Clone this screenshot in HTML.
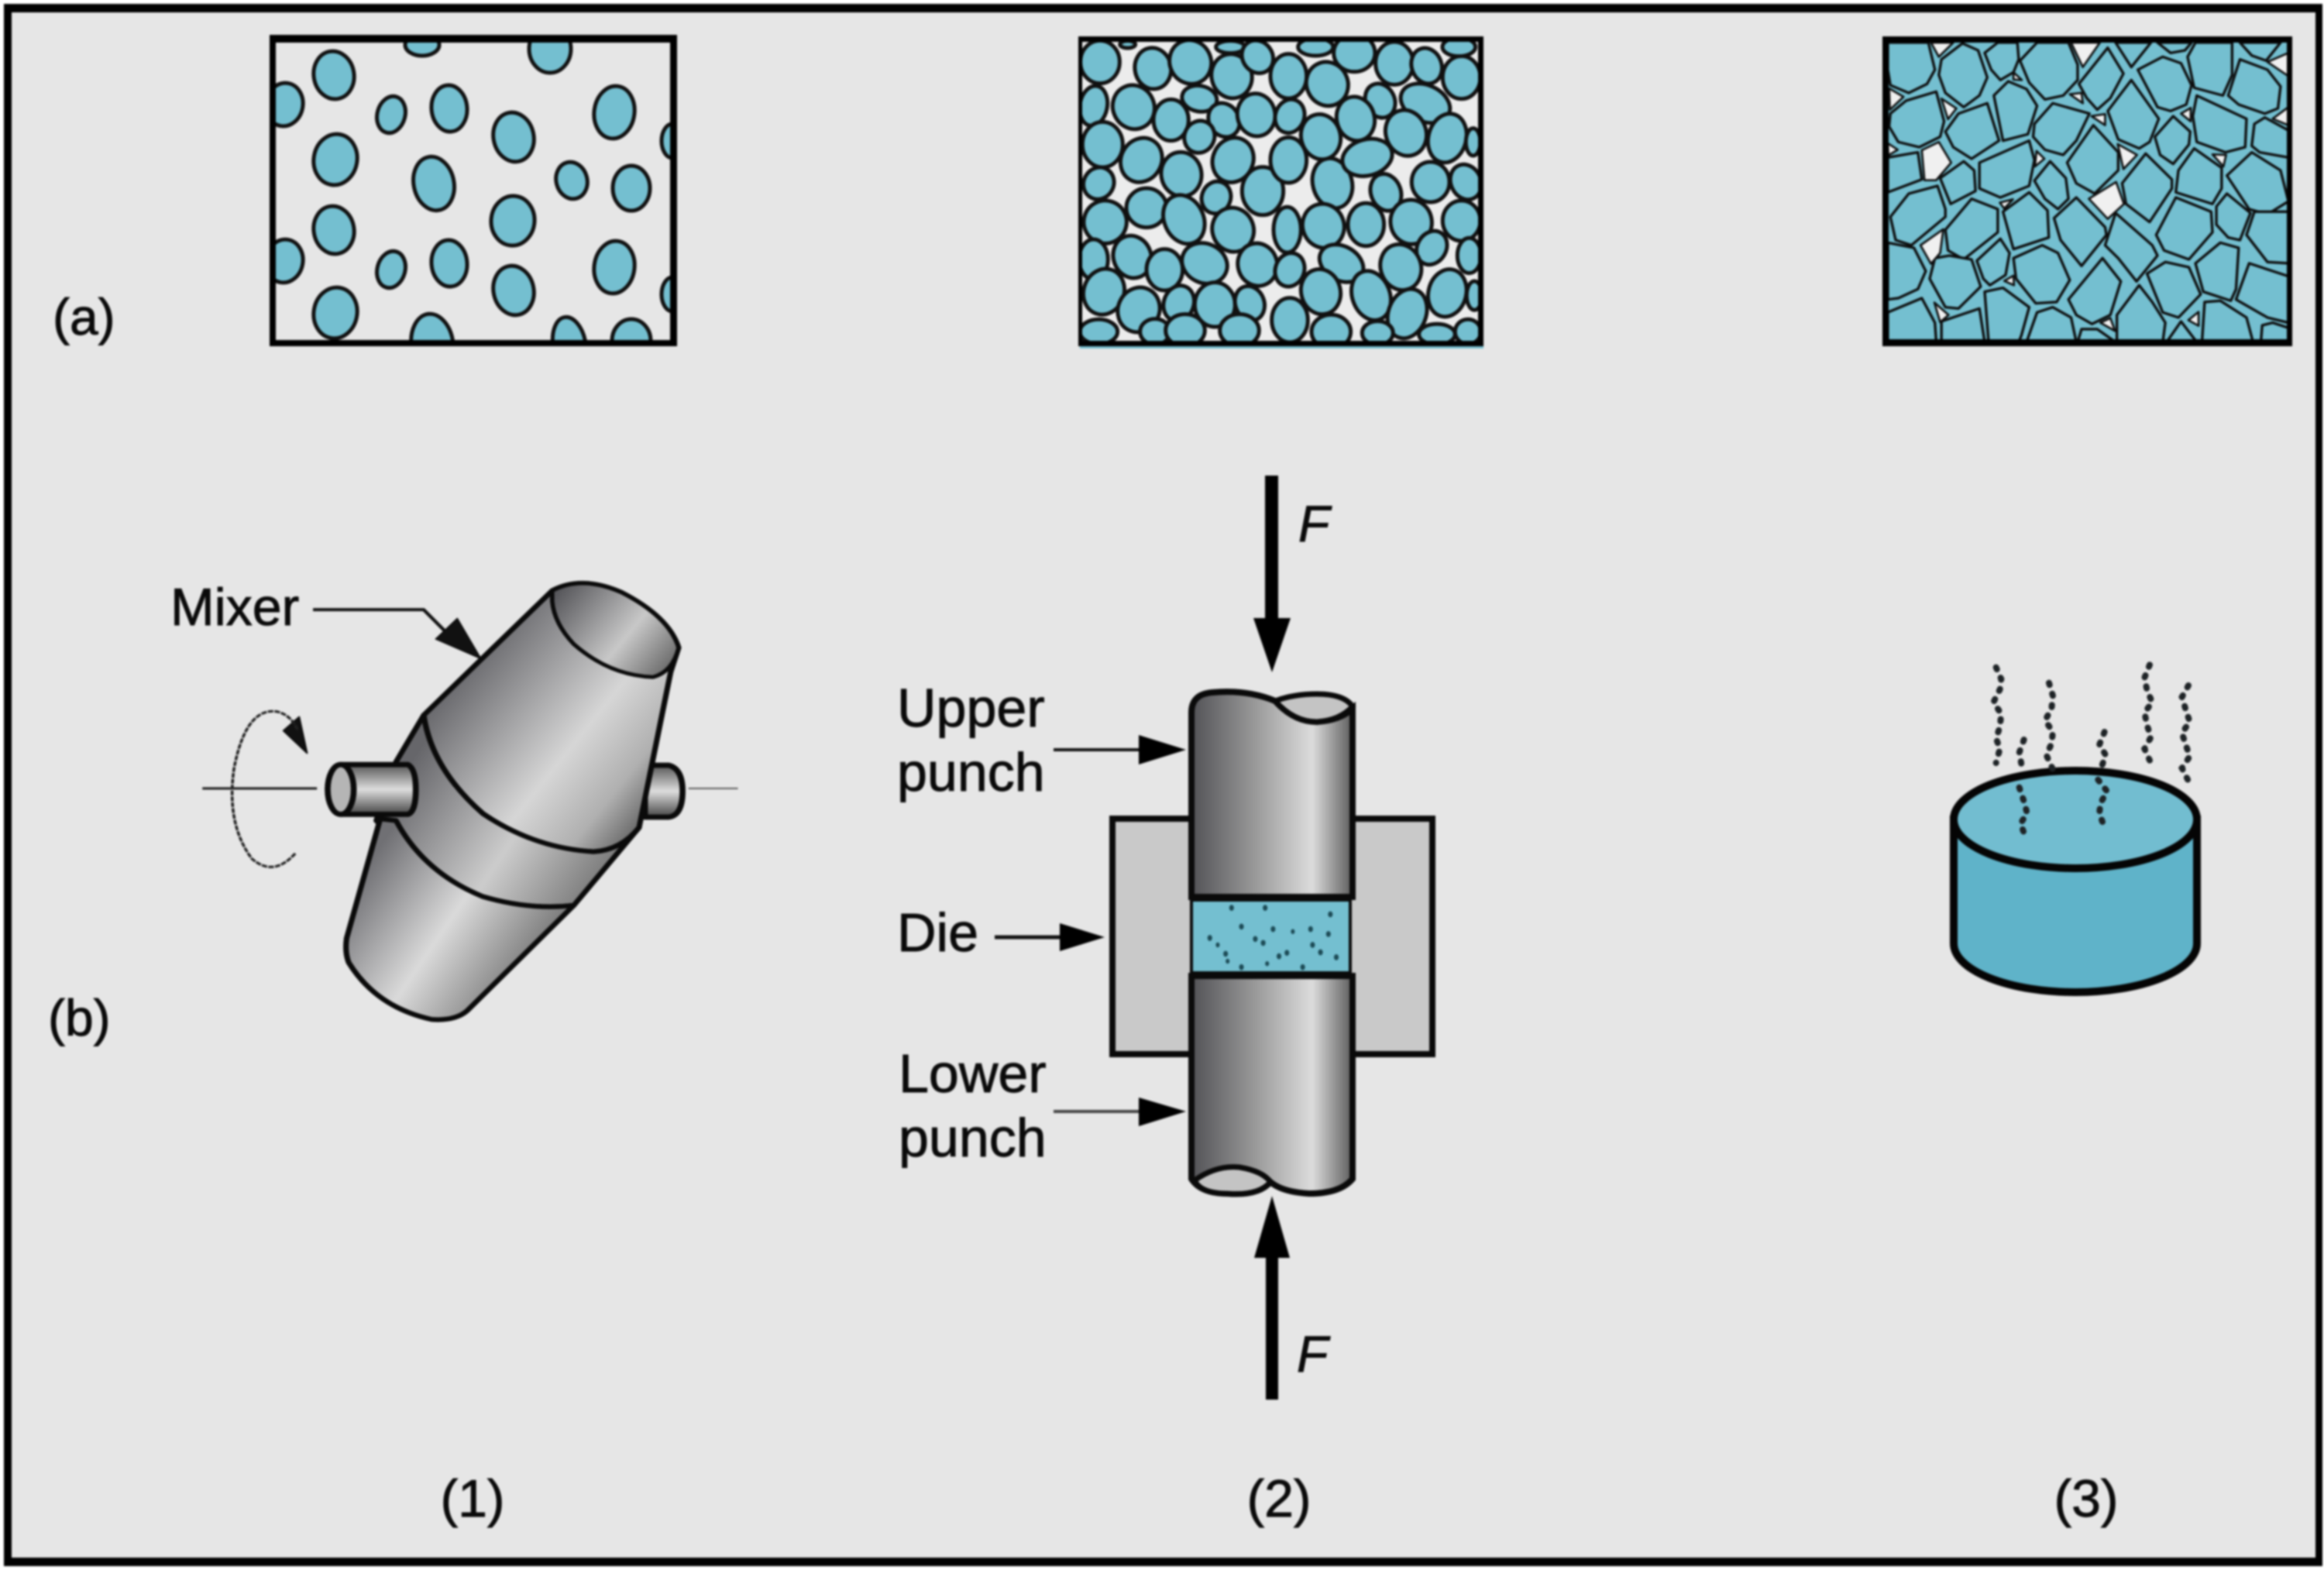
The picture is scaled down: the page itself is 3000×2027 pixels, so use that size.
<!DOCTYPE html>
<html><head><meta charset="utf-8"><style>
html,body{margin:0;padding:0;background:#fff}
svg{display:block;filter:blur(1.2px)}
text{font-family:"Liberation Sans",Arial,sans-serif;fill:#0a0a0a;stroke:#0a0a0a;stroke-width:.9px}
</style></head><body>
<svg width="3000" height="2027" viewBox="0 0 3000 2027" xmlns="http://www.w3.org/2000/svg">
<defs>
<clipPath id="c1"><rect x="356" y="55" width="509" height="384"/></clipPath>
<clipPath id="c2"><rect x="1397" y="54" width="511" height="386"/></clipPath>
<clipPath id="c3"><rect x="2438" y="55" width="514" height="383"/></clipPath>
<linearGradient id="gUp" gradientUnits="userSpaceOnUse" x1="720" y1="480" x2="1260" y2="860"><stop offset="0" stop-color="#66666a"/><stop offset=".55" stop-color="#d6d6d6"/><stop offset=".8" stop-color="#b0b0b0"/><stop offset="1" stop-color="#5c5c5c"/></linearGradient>
<linearGradient id="gMid" gradientUnits="userSpaceOnUse" x1="600" y1="760" x2="1180" y2="1100"><stop offset="0" stop-color="#66666a"/><stop offset=".5" stop-color="#cccccc"/><stop offset="1" stop-color="#606060"/></linearGradient>
<linearGradient id="gLow" gradientUnits="userSpaceOnUse" x1="500" y1="1040" x2="1000" y2="1340"><stop offset="0" stop-color="#707074"/><stop offset=".45" stop-color="#dadada"/><stop offset="1" stop-color="#5c5c5c"/></linearGradient>
<linearGradient id="gRim" gradientUnits="userSpaceOnUse" x1="1020" y1="190" x2="1310" y2="400"><stop offset="0" stop-color="#58585c"/><stop offset=".6" stop-color="#c8c8c8"/><stop offset="1" stop-color="#6a6a6a"/></linearGradient>
<linearGradient id="gTr" x1="0" y1="0" x2="0" y2="1"><stop offset="0" stop-color="#555"/><stop offset=".5" stop-color="#ddd"/><stop offset="1" stop-color="#444"/></linearGradient>
<linearGradient id="gCyl" x1="0" y1="0" x2="1" y2="0"><stop offset="0" stop-color="#525256"/><stop offset=".4" stop-color="#9a9a9a"/><stop offset=".75" stop-color="#dcdcdc"/><stop offset="1" stop-color="#5c5c5c"/></linearGradient>
</defs>

<!-- frame -->
<rect width="3000" height="2027" fill="#fff"/>
<rect x="5" y="5" width="2993" height="2017" fill="#000"/>
<rect x="15" y="16" width="2974" height="1995" fill="#e6e6e6"/>

<!-- box 1 -->
<g clip-path="url(#c1)" fill="#74bfd0" stroke="#111" stroke-width="5">
<ellipse cx="431" cy="97" rx="26" ry="31" transform="rotate(-10 431 97)"/>
<ellipse cx="545" cy="58" rx="22" ry="14"/>
<ellipse cx="710" cy="63" rx="27" ry="31"/>
<ellipse cx="367" cy="135" rx="24" ry="28" transform="rotate(10 367 135)"/>
<ellipse cx="505" cy="148" rx="18" ry="24" transform="rotate(15 505 148)"/>
<ellipse cx="580" cy="140" rx="23" ry="30" transform="rotate(-5 580 140)"/>
<ellipse cx="663" cy="177" rx="26" ry="32" transform="rotate(-12 663 177)"/>
<ellipse cx="793" cy="145" rx="26" ry="34" transform="rotate(8 793 145)"/>
<ellipse cx="868" cy="182" rx="14" ry="22"/>
<ellipse cx="433" cy="206" rx="28" ry="33" transform="rotate(10 433 206)"/>
<ellipse cx="560" cy="237" rx="26" ry="35" transform="rotate(-12 560 237)"/>
<ellipse cx="738" cy="233" rx="20" ry="24" transform="rotate(-15 738 233)"/>
<ellipse cx="815" cy="243" rx="24" ry="29"/>
<ellipse cx="662" cy="285" rx="28" ry="32" transform="rotate(5 662 285)"/>
<ellipse cx="431" cy="297" rx="26" ry="31" transform="rotate(-10 431 297)"/>
<ellipse cx="367" cy="337" rx="24" ry="28" transform="rotate(10 367 337)"/>
<ellipse cx="505" cy="348" rx="18" ry="24" transform="rotate(15 505 348)"/>
<ellipse cx="580" cy="340" rx="23" ry="30" transform="rotate(-5 580 340)"/>
<ellipse cx="663" cy="375" rx="26" ry="32" transform="rotate(-12 663 375)"/>
<ellipse cx="793" cy="345" rx="26" ry="34" transform="rotate(8 793 345)"/>
<ellipse cx="868" cy="380" rx="14" ry="22"/>
<ellipse cx="433" cy="404" rx="28" ry="33" transform="rotate(10 433 404)"/>
<ellipse cx="558" cy="445" rx="27" ry="40" transform="rotate(-8 558 445)"/>
<ellipse cx="735" cy="445" rx="21" ry="36" transform="rotate(-10 735 445)"/>
<ellipse cx="815" cy="440" rx="25" ry="28"/>
</g>
<path fill-rule="evenodd" d="M348 45H874V447H348ZM356 55V439H865V55Z" fill="#000"/>

<!-- box 2 -->
<rect x="1392" y="47" width="523" height="400" fill="#ececec"/>
<g clip-path="url(#c2)"><g transform="translate(1385 40) scale(.3333)" fill="#74bfd0" stroke="#111" stroke-width="15">
<ellipse cx="105" cy="120" rx="76" ry="83"/><ellipse cx="212" cy="52" rx="30" ry="14"/>
<ellipse cx="310" cy="145" rx="70" ry="80" transform="rotate(-10 310 145)"/>
<ellipse cx="455" cy="120" rx="80" ry="86" transform="rotate(-25 455 120)"/>
<ellipse cx="610" cy="62" rx="56" ry="24"/>
<ellipse cx="615" cy="175" rx="78" ry="86" transform="rotate(-15 615 175)"/>
<ellipse cx="715" cy="100" rx="58" ry="66" transform="rotate(-35 715 100)"/>
<ellipse cx="80" cy="290" rx="53" ry="78" transform="rotate(10 80 290)"/>
<ellipse cx="235" cy="295" rx="80" ry="86" transform="rotate(-25 235 295)"/>
<ellipse cx="380" cy="345" rx="68" ry="80"/>
<ellipse cx="490" cy="262" rx="68" ry="50" transform="rotate(10 490 262)"/>
<ellipse cx="585" cy="345" rx="58" ry="68" transform="rotate(-30 585 345)"/>
<ellipse cx="710" cy="325" rx="73" ry="83" transform="rotate(-10 710 325)"/>
<ellipse cx="490" cy="410" rx="58" ry="63" transform="rotate(25 490 410)"/>
<ellipse cx="115" cy="440" rx="78" ry="88"/>
<ellipse cx="265" cy="500" rx="78" ry="88" transform="rotate(30 265 500)"/>
<ellipse cx="420" cy="555" rx="78" ry="86" transform="rotate(-10 420 555)"/>
<ellipse cx="620" cy="500" rx="78" ry="88" transform="rotate(25 620 500)"/>
<ellipse cx="100" cy="590" rx="58" ry="63" transform="rotate(30 100 590)"/>
<ellipse cx="555" cy="645" rx="56" ry="63" transform="rotate(20 555 645)"/>
<ellipse cx="735" cy="620" rx="80" ry="93"/>
<ellipse cx="125" cy="740" rx="83" ry="83" transform="rotate(20 125 740)"/>
<ellipse cx="285" cy="685" rx="78" ry="76"/>
<ellipse cx="430" cy="730" rx="76" ry="98" transform="rotate(-25 430 730)"/>
<ellipse cx="620" cy="770" rx="80" ry="86" transform="rotate(-20 620 770)"/>
<ellipse cx="80" cy="885" rx="56" ry="78"/>
<ellipse cx="230" cy="875" rx="73" ry="83" transform="rotate(-20 230 875)"/>
<ellipse cx="355" cy="925" rx="70" ry="80"/>
<ellipse cx="510" cy="900" rx="90" ry="76" transform="rotate(25 510 900)"/>
<ellipse cx="715" cy="905" rx="76" ry="83" transform="rotate(-15 715 905)"/>
<ellipse cx="120" cy="1010" rx="78" ry="90" transform="rotate(20 120 1010)"/>
<ellipse cx="255" cy="1080" rx="80" ry="88" transform="rotate(25 255 1080)"/>
<ellipse cx="410" cy="1055" rx="58" ry="70" transform="rotate(20 410 1055)"/>
<ellipse cx="550" cy="1060" rx="78" ry="86"/>
<ellipse cx="685" cy="1055" rx="56" ry="68" transform="rotate(-20 685 1055)"/>
<ellipse cx="100" cy="1165" rx="73" ry="48"/>
<ellipse cx="318" cy="1165" rx="58" ry="50"/>
<ellipse cx="435" cy="1160" rx="76" ry="63"/>
<ellipse cx="645" cy="1160" rx="76" ry="63"/>
<ellipse cx="1005" cy="590" rx="76" ry="98" transform="rotate(-15 1005 590)"/>
<ellipse cx="1212" cy="625" rx="58" ry="73" transform="rotate(-20 1212 625)"/>
<ellipse cx="1385" cy="585" rx="73" ry="78"/>
<ellipse cx="1522" cy="585" rx="58" ry="70" transform="rotate(-25 1522 585)"/>
<ellipse cx="830" cy="770" rx="53" ry="88"/>
<ellipse cx="970" cy="755" rx="80" ry="86" transform="rotate(-20 970 755)"/>
<ellipse cx="1135" cy="750" rx="70" ry="83"/>
<ellipse cx="1310" cy="740" rx="80" ry="86" transform="rotate(-10 1310 740)"/>
<ellipse cx="1505" cy="735" rx="73" ry="78"/>
<ellipse cx="1390" cy="840" rx="56" ry="68" transform="rotate(30 1390 840)"/>
<ellipse cx="1535" cy="870" rx="46" ry="68"/>
<ellipse cx="1040" cy="900" rx="90" ry="66" transform="rotate(30 1040 900)"/>
<ellipse cx="1270" cy="915" rx="78" ry="90" transform="rotate(-20 1270 915)"/>
<ellipse cx="840" cy="925" rx="56" ry="66" transform="rotate(20 840 925)"/>
<ellipse cx="960" cy="1010" rx="76" ry="88" transform="rotate(-15 960 1010)"/>
<ellipse cx="1155" cy="1025" rx="73" ry="98" transform="rotate(-20 1155 1025)"/>
<ellipse cx="1450" cy="1015" rx="73" ry="93" transform="rotate(15 1450 1015)"/>
<ellipse cx="1555" cy="1025" rx="30" ry="56"/>
<ellipse cx="1295" cy="1095" rx="73" ry="98" transform="rotate(20 1295 1095)"/>
<ellipse cx="840" cy="1120" rx="70" ry="86"/>
<ellipse cx="1000" cy="1165" rx="76" ry="66"/>
<ellipse cx="1180" cy="1170" rx="60" ry="46"/>
<ellipse cx="1410" cy="1175" rx="70" ry="40"/>
<ellipse cx="1530" cy="1165" rx="50" ry="48"/>
<ellipse cx="940" cy="62" rx="68" ry="34"/>
<ellipse cx="1090" cy="85" rx="80" ry="73"/>
<ellipse cx="1245" cy="125" rx="73" ry="83"/>
<ellipse cx="1370" cy="135" rx="58" ry="70" transform="rotate(-20 1370 135)"/>
<ellipse cx="1505" cy="180" rx="73" ry="83"/>
<ellipse cx="1495" cy="62" rx="64" ry="36"/>
<ellipse cx="835" cy="175" rx="70" ry="86"/>
<ellipse cx="985" cy="205" rx="80" ry="86" transform="rotate(-25 985 205)"/>
<ellipse cx="1190" cy="270" rx="56" ry="68" transform="rotate(-25 1190 270)"/>
<ellipse cx="1365" cy="280" rx="100" ry="70" transform="rotate(25 1365 280)"/>
<ellipse cx="1095" cy="340" rx="73" ry="86" transform="rotate(-15 1095 340)"/>
<ellipse cx="840" cy="330" rx="56" ry="66" transform="rotate(20 840 330)"/>
<ellipse cx="960" cy="410" rx="76" ry="88" transform="rotate(-15 960 410)"/>
<ellipse cx="1290" cy="395" rx="78" ry="90" transform="rotate(-20 1290 395)"/>
<ellipse cx="1450" cy="415" rx="73" ry="96" transform="rotate(15 1450 415)"/>
<ellipse cx="1550" cy="430" rx="28" ry="53"/>
<ellipse cx="1140" cy="490" rx="98" ry="70" transform="rotate(-15 1140 490)"/>
<ellipse cx="835" cy="500" rx="70" ry="88"/>
</g></g>
<path fill-rule="evenodd" d="M1392 47H1915V447H1392ZM1397 54V440H1908V54Z" fill="#000"/>
<rect x="1394" y="447" width="521" height="3" fill="#74bfd0"/>

<!-- box 3 -->
<rect x="2430" y="47" width="529" height="400" fill="#74bfd0"/>
<g clip-path="url(#c3)"><g transform="translate(2420 40) scale(.338 .3333)">
<g fill="#74bfd0" stroke="#0d0d0d" stroke-width="10" stroke-linejoin="round">
<polygon points="50,45 205,45 230,150 200,205 130,240 60,210 50,150"/>
<polygon points="335,48 395,75 430,180 400,250 340,295 270,240 245,170 255,110"/>
<polygon points="420,85 470,45 545,45 550,110 530,160 480,190 445,150"/>
<polygon points="555,115 620,45 740,45 775,130 775,190 720,250 650,265 590,200"/>
<polygon points="780,205 890,65 950,165 900,260 850,305 810,260"/>
<polygon points="920,45 1055,45 980,140"/>
<polygon points="1080,45 1210,45 1185,75 1130,85"/>
<polygon points="1005,150 1100,100 1170,125 1210,210 1190,285 1130,310 1080,295"/>
<polygon points="1225,45 1365,45 1365,170 1330,250 1220,220 1195,100"/>
<polygon points="1395,45 1550,45 1495,115 1440,95"/>
<polygon points="1350,250 1395,110 1500,150 1550,215 1540,300 1490,320 1390,285"/>
<polygon points="60,320 120,270 235,235 265,350 250,410 170,450 90,430 55,370"/>
<polygon points="270,390 320,320 430,280 475,425 370,495 300,450"/>
<polygon points="455,250 510,195 580,225 620,290 585,400 490,425"/>
<polygon points="610,360 680,280 820,320 770,425 720,480 650,460 605,410"/>
<polygon points="890,310 980,190 1085,340 1050,430 1010,455 930,420"/>
<polygon points="1070,410 1140,330 1205,390 1200,440 1140,515 1090,480"/>
<polygon points="1215,330 1230,250 1420,340 1415,450 1340,470 1230,430"/>
<polygon points="1450,360 1490,335 1580,385 1580,490 1470,470 1440,445"/>
<polygon points="50,490 165,470 180,575 50,625"/>
<polygon points="250,570 340,505 380,540 385,620 290,670"/>
<polygon points="400,510 590,425 610,500 590,600 480,645 400,610"/>
<polygon points="610,580 670,505 730,570 740,650 700,690 650,650"/>
<polygon points="735,510 835,365 930,470 930,540 840,630 770,590"/>
<polygon points="945,590 1035,475 1135,575 1135,610 1050,740 960,670"/>
<polygon points="1150,625 1160,540 1220,455 1325,530 1325,610 1290,670"/>
<polygon points="1345,560 1440,470 1550,540 1580,660 1500,710 1430,690"/>
<polygon points="60,720 130,630 240,600 270,690 270,720 140,830 80,810"/>
<polygon points="270,770 370,650 470,690 470,780 340,885 280,850"/>
<polygon points="490,700 590,625 660,695 665,800 530,845"/>
<polygon points="685,725 770,645 880,760 885,790 790,910 710,810"/>
<polygon points="1075,790 1150,645 1285,700 1290,780 1200,885 1105,850"/>
<polygon points="1305,680 1345,630 1435,705 1395,810 1350,800 1305,750"/>
<polygon points="1420,790 1450,700 1580,700 1580,900 1500,895"/>
<polygon points="50,820 150,840 195,930 165,1000 90,1035 50,1040"/>
<polygon points="210,960 230,880 285,870 370,885 405,990 320,1075 270,1070"/>
<polygon points="390,890 480,805 515,860 500,945 440,985 415,960"/>
<polygon points="530,880 640,830 700,860 745,965 695,1050 615,1055 540,960"/>
<polygon points="880,830 920,705 1060,830 1080,870 1000,970 930,880"/>
<polygon points="1040,940 1110,895 1200,915 1245,1020 1160,1110 1100,1090"/>
<polygon points="1225,900 1320,820 1390,840 1380,1000 1360,1045 1255,1010"/>
<polygon points="1380,1040 1430,900 1580,950 1580,1130 1500,1110"/>
<polygon points="740,1040 870,880 940,970 900,1100 830,1135 770,1100"/>
<polygon points="50,1090 180,1035 230,1130 235,1205 50,1205"/>
<polygon points="255,1125 400,1075 420,1205 255,1205"/>
<polygon points="420,1010 490,995 590,1070 560,1180 550,1205 435,1205"/>
<polygon points="580,1205 620,1090 680,1070 750,1110 770,1205"/>
<polygon points="775,1205 790,1155 850,1155 920,1205"/>
<polygon points="925,1100 1010,985 1060,1050 1110,1130 1100,1205 925,1205"/>
<polygon points="1115,1205 1170,1125 1230,1205"/>
<polygon points="1250,1205 1260,1050 1320,1045 1420,1110 1445,1205"/>
<polygon points="1475,1205 1480,1140 1520,1130 1580,1150 1580,1205"/>
</g>
<g fill="#f0f0f0" stroke="#0d0d0d" stroke-width="8" stroke-linejoin="round">
<polygon points="215,45 300,45 245,100"/><polygon points="750,45 860,45 795,140"/><polygon points="55,222 110,255 58,305"/><polygon points="255,262 312,300 280,342"/><polygon points="180,462 245,430 292,510 235,578 190,578"/><polygon points="818,650 922,585 952,670 890,728"/><polygon points="175,830 262,768 250,860 215,902"/><polygon points="928,438 1002,480 950,535"/><polygon points="1500,120 1580,85 1580,175"/><polygon points="1520,340 1580,295 1580,365"/><polygon points="745,245 790,240 795,280"/><polygon points="618,465 648,495 612,525"/><polygon points="1170,320 1207,298 1207,350"/><polygon points="828,330 880,322 880,365"/><polygon points="1290,478 1342,480 1332,525"/><polygon points="1198,1120 1237,1088 1237,1142"/><polygon points="862,1130 900,1112 918,1162"/><polygon points="228,1052 282,1100 250,1128"/><polygon points="530,160 562,190 530,188"/><polygon points="50,435 88,460 52,482"/><polygon points="478,665 528,652 495,688"/><polygon points="495,968 530,948 532,985"/>
</g></g></g>
<path fill-rule="evenodd" d="M2430 47H2959V447H2430ZM2438 55V438H2952V55Z" fill="#000"/>

<!-- mixer -->
<g transform="translate(200 680) scale(.5102 .4464)" stroke="#0a0a0a" stroke-linejoin="round">
<path d="M385 655L365 550 325 590Z" fill="#111" stroke-width="4"/>
<path d="M355 945Q300 1015 245 960Q180 860 200 700Q230 520 310 535Q345 545 362 590" fill="none" stroke="#222" stroke-width="7" stroke-dasharray="14 3"/>
<path d="M120 757H410" fill="none" stroke="#222" stroke-width="7"/>
<path d="M1350 757H1475" fill="none" stroke="#555" stroke-width="4"/>
<path d="M400 240H680L745 315" fill="none" stroke="#111" stroke-width="9"/>
<path d="M765 265L710 325 825 382Z" fill="#111" stroke-width="3"/>
<path d="M1240 690H1300Q1335 700 1335 765Q1335 835 1300 840H1240Z" fill="url(#gTr)" stroke-width="15"/>
<path d="M1005 185L680 545Q700 700 830 830Q960 930 1110 940Q1180 935 1225 870L1305 420L1325 350Q1300 260 1180 190Q1080 140 1005 185Z" fill="url(#gUp)" stroke-width="14"/>
<path d="M680 545L610 680L560 850Q680 1000 830 1070Q950 1110 1060 1095L1225 870Q1180 935 1110 940Q960 930 830 830Q700 700 680 545Z" fill="url(#gMid)" stroke-width="14"/>
<path d="M570 845L485 1190Q480 1230 490 1260Q560 1390 700 1425Q760 1430 790 1400L1060 1095Q950 1110 830 1070Q680 1000 610 850Z" fill="url(#gLow)" stroke-width="14"/>
<path d="M1005 215Q1010 280 1060 340Q1150 430 1260 435Q1310 420 1325 350Q1300 260 1180 190Q1080 140 1005 185Z" fill="url(#gRim)" stroke-width="11"/>
<path d="M470 688H640Q660 700 660 760Q660 825 640 832H470Z" fill="url(#gTr)" stroke-width="15"/>
<ellipse cx="470" cy="760" rx="33" ry="72" fill="#b5b5b5" stroke-width="15"/>
</g>
<text x="220" y="807" font-size="68">Mixer</text>

<!-- press -->
<rect x="1436" y="1057" width="413" height="304" fill="#c9c9c9" stroke="#0a0a0a" stroke-width="8"/>
<path d="M1538 920Q1538 896 1565 894Q1610 890 1646 905Q1670 932 1700 932Q1730 930 1746 915V1158H1538Z" fill="url(#gCyl)" stroke="#0a0a0a" stroke-width="8"/>
<path d="M1646 905Q1670 932 1700 932Q1730 930 1746 912Q1735 896 1700 896Q1670 896 1646 905Z" fill="#c4c4c4" stroke="#0a0a0a" stroke-width="7"/>
<path d="M1538 1260H1746V1522Q1730 1541 1690 1541Q1655 1539 1640 1526Q1625 1544 1585 1541Q1550 1541 1538 1522Z" fill="url(#gCyl)" stroke="#0a0a0a" stroke-width="8"/>
<path d="M1542 1524Q1570 1504 1600 1507Q1630 1512 1640 1526Q1625 1544 1585 1541Q1550 1541 1542 1524Z" fill="#c4c4c4" stroke="#0a0a0a" stroke-width="7"/>
<rect x="1540" y="1160" width="201" height="98" fill="#74bfd0"/>
<rect x="1536" y="1155" width="208" height="9" fill="#0a0a0a"/>
<rect x="1536" y="1254" width="208" height="9" fill="#0a0a0a"/>
<rect x="1536" y="1160" width="4" height="100" fill="#0a0a0a"/>
<rect x="1741" y="1160" width="4" height="100" fill="#0a0a0a"/>
<g fill="#1c4a55" transform="translate(1100 600) scale(.5102 .6378)">
<circle cx="960" cy="897" r="6"/><circle cx="1045" cy="897" r="6"/><circle cx="1210" cy="910" r="6"/><circle cx="985" cy="935" r="6"/><circle cx="1065" cy="940" r="6"/><circle cx="1115" cy="945" r="5"/><circle cx="1160" cy="940" r="6"/><circle cx="1205" cy="950" r="6"/><circle cx="905" cy="958" r="6"/><circle cx="925" cy="972" r="5"/><circle cx="1020" cy="960" r="6"/><circle cx="1040" cy="968" r="6"/><circle cx="1165" cy="972" r="6"/><circle cx="1185" cy="987" r="6"/><circle cx="1225" cy="997" r="6"/><circle cx="945" cy="990" r="6"/><circle cx="950" cy="1005" r="5"/><circle cx="1080" cy="995" r="6"/><circle cx="1100" cy="988" r="6"/><circle cx="1050" cy="1010" r="5"/><circle cx="985" cy="1017" r="6"/><circle cx="1140" cy="1017" r="6"/>
</g>
<rect x="1633" y="614" width="17" height="190" fill="#000"/>
<polygon points="1618,798 1666,798 1642,868" fill="#000"/>
<rect x="1634" y="1618" width="16" height="189" fill="#000"/>
<polygon points="1619,1624 1665,1624 1642,1544" fill="#000"/>
<text x="1676" y="699" font-size="66" font-style="italic">F</text>
<text x="1674" y="1771" font-size="66" font-style="italic">F</text>
<g stroke="#111" stroke-width="4"><line x1="1360" y1="968" x2="1475" y2="968"/><line x1="1284" y1="1210" x2="1370" y2="1210" stroke-width="5"/><line x1="1360" y1="1435" x2="1475" y2="1435" stroke="#444"/></g>
<g fill="#000"><polygon points="1470,949 1470,987 1531,968"/><polygon points="1368,1192 1368,1228 1426,1210"/><polygon points="1470,1417 1470,1454 1531,1435"/></g>
<text x="1158" y="938" font-size="70">Upper</text>
<text x="1158" y="1021" font-size="70">punch</text>
<text x="1158" y="1228" font-size="70">Die</text>
<text x="1160" y="1410" font-size="70">Lower</text>
<text x="1160" y="1493" font-size="70">punch</text>

<!-- sintered part -->
<path d="M2522 1058V1218A157 63 0 0 0 2836 1218V1058Z" fill="#5fb3c9" stroke="#050505" stroke-width="10"/>
<ellipse cx="2679" cy="1058" rx="157" ry="63" fill="#72bdd0" stroke="#050505" stroke-width="10"/>
<g transform="translate(2450 820) scale(.3333)" fill="none" stroke="#1e2326" stroke-width="24" stroke-linecap="round" stroke-dasharray="8 36">
<polyline points="380,125 400,170 395,210 370,260 400,305 395,355 380,400 395,440 380,495"/>
<polyline points="488,405 470,455 480,510"/>
<polyline points="470,590 490,650 500,690 475,730 495,785"/>
<polyline points="585,185 600,235 595,285 570,330 600,375 595,420 575,465 600,520"/>
<polyline points="800,375 780,425 805,465 785,520"/>
<polyline points="775,560 810,605 785,650 780,690 800,745"/>
<polyline points="975,115 955,165 965,215 985,260 955,300 965,350 980,395 955,440 975,485"/>
<polyline points="1125,195 1100,240 1115,290 1130,335 1100,380 1115,425 1130,470 1100,515 1125,565"/>
</g>

<!-- captions -->
<text x="68" y="432" font-size="66">(a)</text>
<text x="62" y="1337" font-size="66">(b)</text>
<text x="610" y="1958" font-size="68" text-anchor="middle">(1)</text>
<text x="1651" y="1958" font-size="68" text-anchor="middle">(2)</text>
<text x="2693" y="1958" font-size="68" text-anchor="middle">(3)</text>
</svg>
</body></html>
